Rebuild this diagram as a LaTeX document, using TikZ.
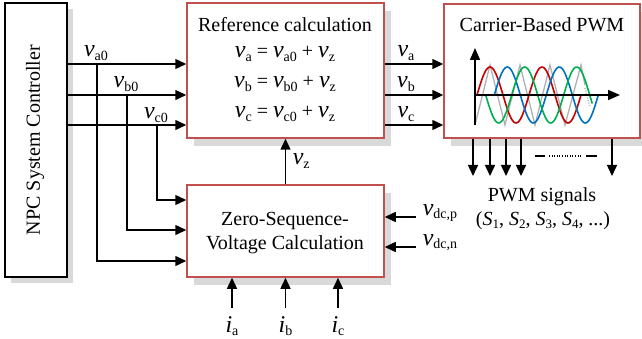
\documentclass[tikz,border=0pt]{standalone}
\usepackage{fontspec}
\setmainfont{Liberation Serif}
\usetikzlibrary{arrows.meta,shadows}
\definecolor{boxred}{RGB}{192,80,77}
\definecolor{shadowgray}{RGB}{217,217,217}
\definecolor{wred}{RGB}{200,0,0}
\definecolor{wblue}{RGB}{0,112,192}
\definecolor{wgreen}{RGB}{0,176,80}
\definecolor{cgray}{RGB}{175,175,175}
\newcommand{\vsym}[1]{{\fontsize{24}{24}\selectfont\textit{v}\raisebox{-3.5pt}{\fontsize{14}{14}\selectfont #1}}}
\newcommand{\isym}[1]{{\fontsize{24}{24}\selectfont\textit{i}\raisebox{-3.5pt}{\fontsize{14}{14}\selectfont #1}}}
\newcommand{\Ssym}[1]{\textit{S}\raisebox{-3pt}{\fontsize{13}{13}\selectfont #1}}
\begin{document}
\begin{tikzpicture}[x=1pt,y=-1pt,line width=1.5pt,font=\fontsize{20}{24}\selectfont]
\tikzset{
  blk/.style={draw=boxred,line width=1.5pt,fill=white,rectangle,inner sep=0pt,
    drop shadow={shadow xshift=7pt,shadow yshift=-8pt,fill=shadowgray,opacity=1}},
  ctl/.style={draw=black,line width=1.5pt,fill=white,rectangle,inner sep=0pt,
    drop shadow={shadow xshift=6pt,shadow yshift=-6pt,fill=shadowgray,opacity=1}},
  arr/.style={-{Triangle[length=11pt,width=10pt]},line width=1.5pt},
  lbl/.style={inner sep=0pt,anchor=base},
  lblw/.style={inner sep=0pt,anchor=base west},
  wave/.style={line width=1.6pt,smooth},
}
\useasboundingbox (0,0) rectangle (642,339);

% blocks
\node[ctl,minimum width=62pt,minimum height=274pt] (npc) at (36,140) {};
\node[rotate=90,inner sep=0pt] (npct) at (35,140) {NPC System Controller};
\node[blk,minimum width=197pt,minimum height=135pt] (ref) at (285.5,70.5) {};
\node[blk,minimum width=196pt,minimum height=134pt] (pwm) at (542,71) {};
\node[blk,minimum width=197pt,minimum height=92pt] (zs) at (285.5,231) {};

% block texts
\node[lbl] (reft) at (285,32) {Reference calculation};
\node[lbl] (eqa) at (285,58) {\vsym{a} = \vsym{a0} + \vsym{z}};
\node[lbl] (eqb) at (285,88) {\vsym{b} = \vsym{b0} + \vsym{z}};
\node[lbl] (eqc) at (285,118) {\vsym{c} = \vsym{c0} + \vsym{z}};
\node[lbl] (pwmt) at (542,32) {Carrier-Based PWM};
\node[lbl] (zst1) at (285,225) {Zero-Sequence-};
\node[lbl] (zst2) at (285,249) {Voltage Calculation};

% controller outputs to reference block
\draw[arr] (npc.east |- 0,64) -- (ref.west |- 0,64);
\draw[arr] (npc.east |- 0,95) -- (ref.west |- 0,95);
\draw[arr] (npc.east |- 0,125) -- (ref.west |- 0,125);
\coordinate (ja) at (97,64);
\coordinate (jb) at (127,95);
\coordinate (jc) at (157,125);
\draw[arr] (ja) |- (zs.west |- 0,261);
\draw[arr] (jb) |- (zs.west |- 0,230);
\draw[arr] (jc) |- (zs.west |- 0,200);
\node[lbl] (la0) at (96,57) {\vsym{a0}};
\node[lbl] (lb0) at (126,88) {\vsym{b0}};
\node[lbl] (lc0) at (156,119) {\vsym{c0}};

% reference to PWM
\draw[arr] (ref.east |- 0,64) -- (pwm.west |- 0,64);
\draw[arr] (ref.east |- 0,95) -- (pwm.west |- 0,95);
\draw[arr] (ref.east |- 0,125) -- (pwm.west |- 0,125);
\node[lbl] (la) at (406,57) {\vsym{a}};
\node[lbl] (lb) at (406,88) {\vsym{b}};
\node[lbl] (lc) at (406,118) {\vsym{c}};

% zero sequence to reference
\draw[arr] (zs.north) -- (ref.south);
\node[lblw] (lz) at (292,165) {\vsym{z}};

% dc voltages
\coordinate (dcp) at (416,217);
\coordinate (dcn) at (416,247);
\draw[arr] (dcp) -- (zs.east |- dcp);
\draw[arr] (dcn) -- (zs.east |- dcn);
\node[lblw] (ldcp) at (422,215) {\vsym{dc,p}};
\node[lblw] (ldcn) at (422,245) {\vsym{dc,n}};

% currents
\coordinate (cia) at (232,308);
\coordinate (cib) at (285.5,308);
\coordinate (cic) at (338,308);
\draw[arr] (cia) -- (zs.south -| cia);
\draw[arr] (cib) -- (zs.south -| cib);
\draw[arr] (cic) -- (zs.south -| cic);
\node[lbl] (lia) at (232,332) {\isym{a}};
\node[lbl] (lib) at (285.5,332) {\isym{b}};
\node[lbl] (lic) at (338,332) {\isym{c}};

% PWM outputs
\foreach \xx/\nm in {473/s1,490/s2,506/s3,521/s4,612/sn}{
  \coordinate (\nm) at (\xx,176);
  \draw[arr] (pwm.south -| \nm) -- (\nm);
}
\draw[line width=1.2pt] (535,156) -- (545,156);
\draw[line width=1.2pt,dash pattern=on 1pt off 1.6pt] (549,156) -- (582,156);
\draw[line width=1.2pt] (586,156) -- (597,156);
\node[lbl] (pwms1) at (542,201) {PWM signals};
\node[lbl] (pwms2) at (543,225) {(\Ssym{1}, \Ssym{2}, \Ssym{3}, \Ssym{4}, ...)};

% carrier plot
\draw[cgray,line width=1.3pt,line join=miter] (475,125) -- (490,65) -- (505,125) -- (520,65) -- (535,125) -- (550,65) -- (565,125) -- (581,65) -- (585,85);
\draw[cgray,line width=1.3pt,dash pattern=on 1pt off 1.5pt] (585,88) -- (590,107);
\draw[wave,wred,domain=0:2,samples=80] plot ({477+52*\x},{95-28*sin(360*\x)});
\draw[wave,wblue,domain=0:2,samples=80] plot ({494.3+52*\x},{95-28*sin(360*\x)});
\draw[wave,wgreen,domain=0:2.05,samples=80] plot ({485.7+52*\x},{95+28*sin(360*\x)});
\draw[-{Triangle[length=12pt,width=10pt]},line width=1.6pt] (475,125) -- (475,48);
\draw[-{Triangle[length=12pt,width=10pt]},line width=1.6pt] (475,95) -- (620,95);
\end{tikzpicture}
\end{document}
